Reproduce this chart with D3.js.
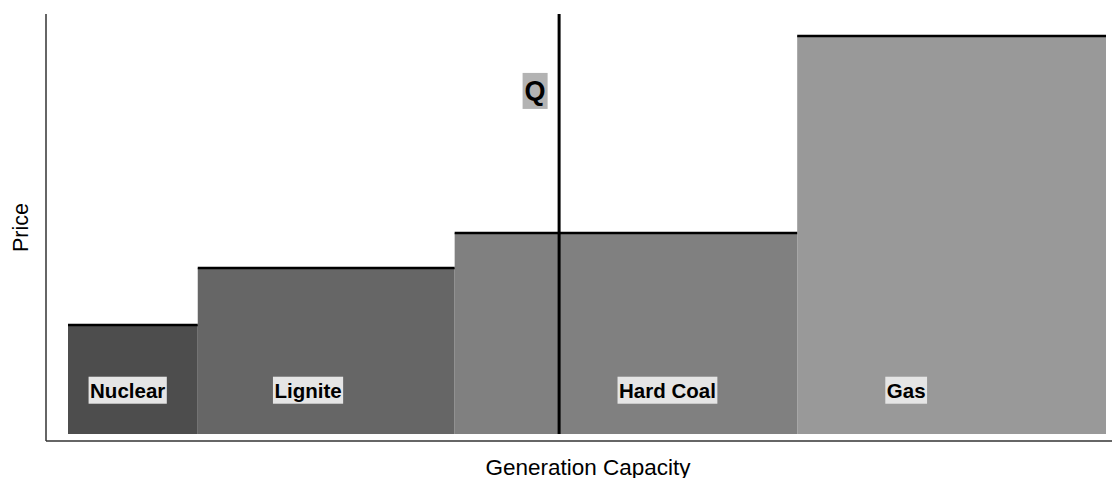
<!DOCTYPE html>
<html>
<head>
<meta charset="utf-8">
<script src="https://cdn.jsdelivr.net/npm/d3@7"></script>
<style>
  html, body { margin: 0; padding: 0; background: #fff; }
  svg { display: block; font-family: "Liberation Sans", Arial, sans-serif; }
</style>
</head>
<body>
<svg id="chart" width="1112" height="478"></svg>
<script>
// ---- data ----
const categories = ["Nuclear", "Lignite", "Hard Coal", "Gas"];
const capacities = [10, 19.8, 26.4, 23.8];       // width of each block
const prices = [27.4, 41.7, 50.5, 100];          // marginal price
const colors = ["#4d4d4d", "#666666", "#808080", "#999999"];
const labelX = [4.6, 18.5, 46.2, 64.6];          // label positions (capacity units)
const labelY = 11;                               // label price level
const demandQ = 37.85;                           // demand line
const qLabel = { text: "Q", x: 36, y: 86.2 };

// ---- layout ----
const panel = { left: 46, right: 1112, top: 14, bottom: 441 };
const svg = d3.select("#chart");

let cum = 0;
const blocks = categories.map((c, i) => {
  const b = { name: c, x0: cum, x1: cum + capacities[i], price: prices[i], color: colors[i], lx: labelX[i] };
  cum += capacities[i];
  return b;
});

const x = d3.scaleLinear().domain([0, d3.sum(capacities)]).range([68, 1106]);
const y = d3.scaleLinear().domain([0, d3.max(prices)]).range([434, 36]);

// blocks
svg.append("g").selectAll("rect").data(blocks).join("rect")
  .attr("x", d => x(d.x0))
  .attr("width", d => x(d.x1) - x(d.x0))
  .attr("y", d => y(d.price))
  .attr("height", d => y(0) - y(d.price))
  .attr("fill", d => d.color);

// top edges
svg.append("g").selectAll("line").data(blocks).join("line")
  .attr("x1", d => x(d.x0)).attr("x2", d => x(d.x1))
  .attr("y1", d => y(d.price)).attr("y2", d => y(d.price))
  .attr("stroke", "#000").attr("stroke-width", 2.5);

// demand line
svg.append("line")
  .attr("x1", x(demandQ)).attr("x2", x(demandQ))
  .attr("y1", y(0)).attr("y2", panel.top)
  .attr("stroke", "#000").attr("stroke-width", 3);

// labels
const lg = svg.append("g");
blocks.forEach(d => {
  const g = lg.append("g");
  const t = g.append("text")
    .attr("x", x(d.lx)).attr("y", y(labelY))
    .attr("text-anchor", "middle").attr("dominant-baseline", "central")
    .attr("font-size", 20.5).attr("font-weight", "bold").attr("fill", "#000")
    .text(d.name);
  const bb = t.node().getBBox();
  g.insert("rect", "text")
    .attr("x", bb.x - 1.5).attr("width", bb.width + 3)
    .attr("y", y(labelY) - 13.5).attr("height", 27)
    .attr("fill", "#e5e5e5");
});

// Q label
{
  const g = svg.append("g");
  const t = g.append("text")
    .attr("x", x(qLabel.x)).attr("y", y(qLabel.y))
    .attr("text-anchor", "middle").attr("dominant-baseline", "central")
    .attr("font-size", 27).attr("font-weight", "bold").attr("fill", "#000")
    .text(qLabel.text);
  const bb = t.node().getBBox();
  g.insert("rect", "text")
    .attr("x", bb.x - 2).attr("width", bb.width + 4)
    .attr("y", y(qLabel.y) - 18).attr("height", 36)
    .attr("fill", "#b3b3b3");
}

// axes (no ticks)
svg.append("line")
  .attr("x1", panel.left).attr("x2", panel.left)
  .attr("y1", panel.top).attr("y2", panel.bottom)
  .attr("stroke", "#333").attr("stroke-width", 1.5);
svg.append("line")
  .attr("x1", panel.left).attr("x2", panel.right)
  .attr("y1", panel.bottom).attr("y2", panel.bottom)
  .attr("stroke", "#333").attr("stroke-width", 1.5);

// axis titles
svg.append("text")
  .attr("x", (panel.left + panel.right) / 2 + 9).attr("y", 467)
  .attr("text-anchor", "middle").attr("dominant-baseline", "central")
  .attr("font-size", 22.5).attr("fill", "#000")
  .text("Generation Capacity");
svg.append("text")
  .attr("transform", `translate(21,${(panel.top + panel.bottom) / 2}) rotate(-90)`)
  .attr("text-anchor", "middle").attr("dominant-baseline", "central")
  .attr("font-size", 21.5).attr("fill", "#000")
  .text("Price");
</script>
</body>
</html>
